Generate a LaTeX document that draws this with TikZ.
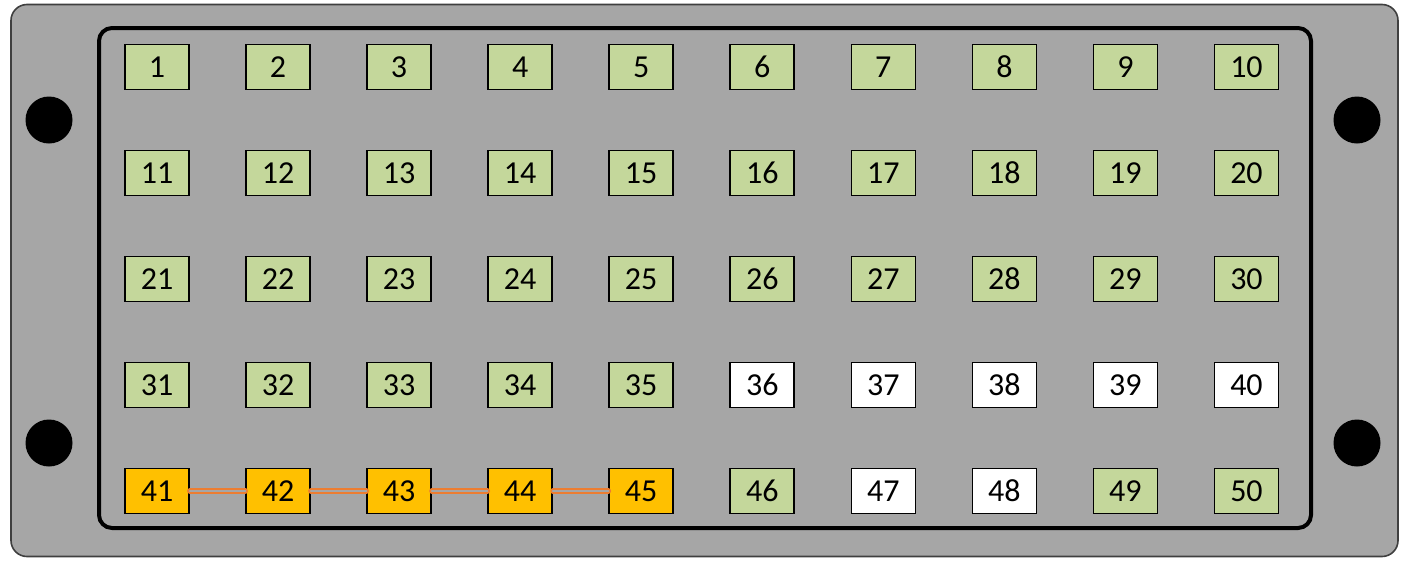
\documentclass[tikz,border=0pt]{standalone}
\usepackage{fontspec}
\setmainfont{Carlito}
\definecolor{panelgray}{HTML}{A6A6A6}
\definecolor{pingreen}{HTML}{C4D79B}
\definecolor{pinorange}{HTML}{FFC000}
\definecolor{linkorange}{HTML}{ED7D31}
\definecolor{rimgray}{HTML}{3F3F3F}
\tikzset{
  pin/.style={draw=black, line width=1.6pt, minimum width=64pt, minimum height=45pt,
    inner sep=0pt, font=\fontsize{32}{32}\selectfont, text=black},
  pg/.style={pin, fill=pingreen},
  pw/.style={pin, fill=white},
  po/.style={pin, fill=pinorange},
  hole/.style={circle, fill=black, minimum size=47pt, inner sep=0pt},
  link/.style={draw=linkorange, line width=1.6pt, double=panelgray, double distance=2.2pt, line cap=round}
}
\begin{document}
\begin{tikzpicture}[x=1pt, y=-1pt]
\useasboundingbox (0,0) rectangle (1407,560);
\draw[fill=panelgray, draw=rimgray, line width=1.6pt, rounded corners=16pt] (11,4.5) rectangle (1398,556.5);
\draw[line width=4pt, rounded corners=13pt] (99,28) rectangle (1311,528);
\node[hole] (h1) at (49,120) {};
\node[hole] (h2) at (49,443) {};
\node[hole] (h3) at (1357,120) {};
\node[hole] (h4) at (1357,443) {};
% pins
\foreach \r in {0,...,4}{
  \foreach \c in {1,...,10}{
    \pgfmathtruncatemacro{\n}{\r*10+\c}
    \pgfmathsetmacro{\xx}{157+(\c-1)*121.05}
    \pgfmathsetmacro{\yy}{67+\r*106}
    \ifnum\n<36 \def\st{pg}\else
    \ifnum\n<41 \def\st{pw}\else
    \ifnum\n<46 \def\st{po}\else
    \ifnum\n=47 \def\st{pw}\else
    \ifnum\n=48 \def\st{pw}\else \def\st{pg}\fi\fi\fi\fi\fi
    \node[\st] (b\n) at (\xx,\yy) {\n};
  }
}
\draw[link] (b41.east) -- (b42.west);
\draw[link] (b42.east) -- (b43.west);
\draw[link] (b43.east) -- (b44.west);
\draw[link] (b44.east) -- (b45.west);
\end{tikzpicture}
\end{document}
